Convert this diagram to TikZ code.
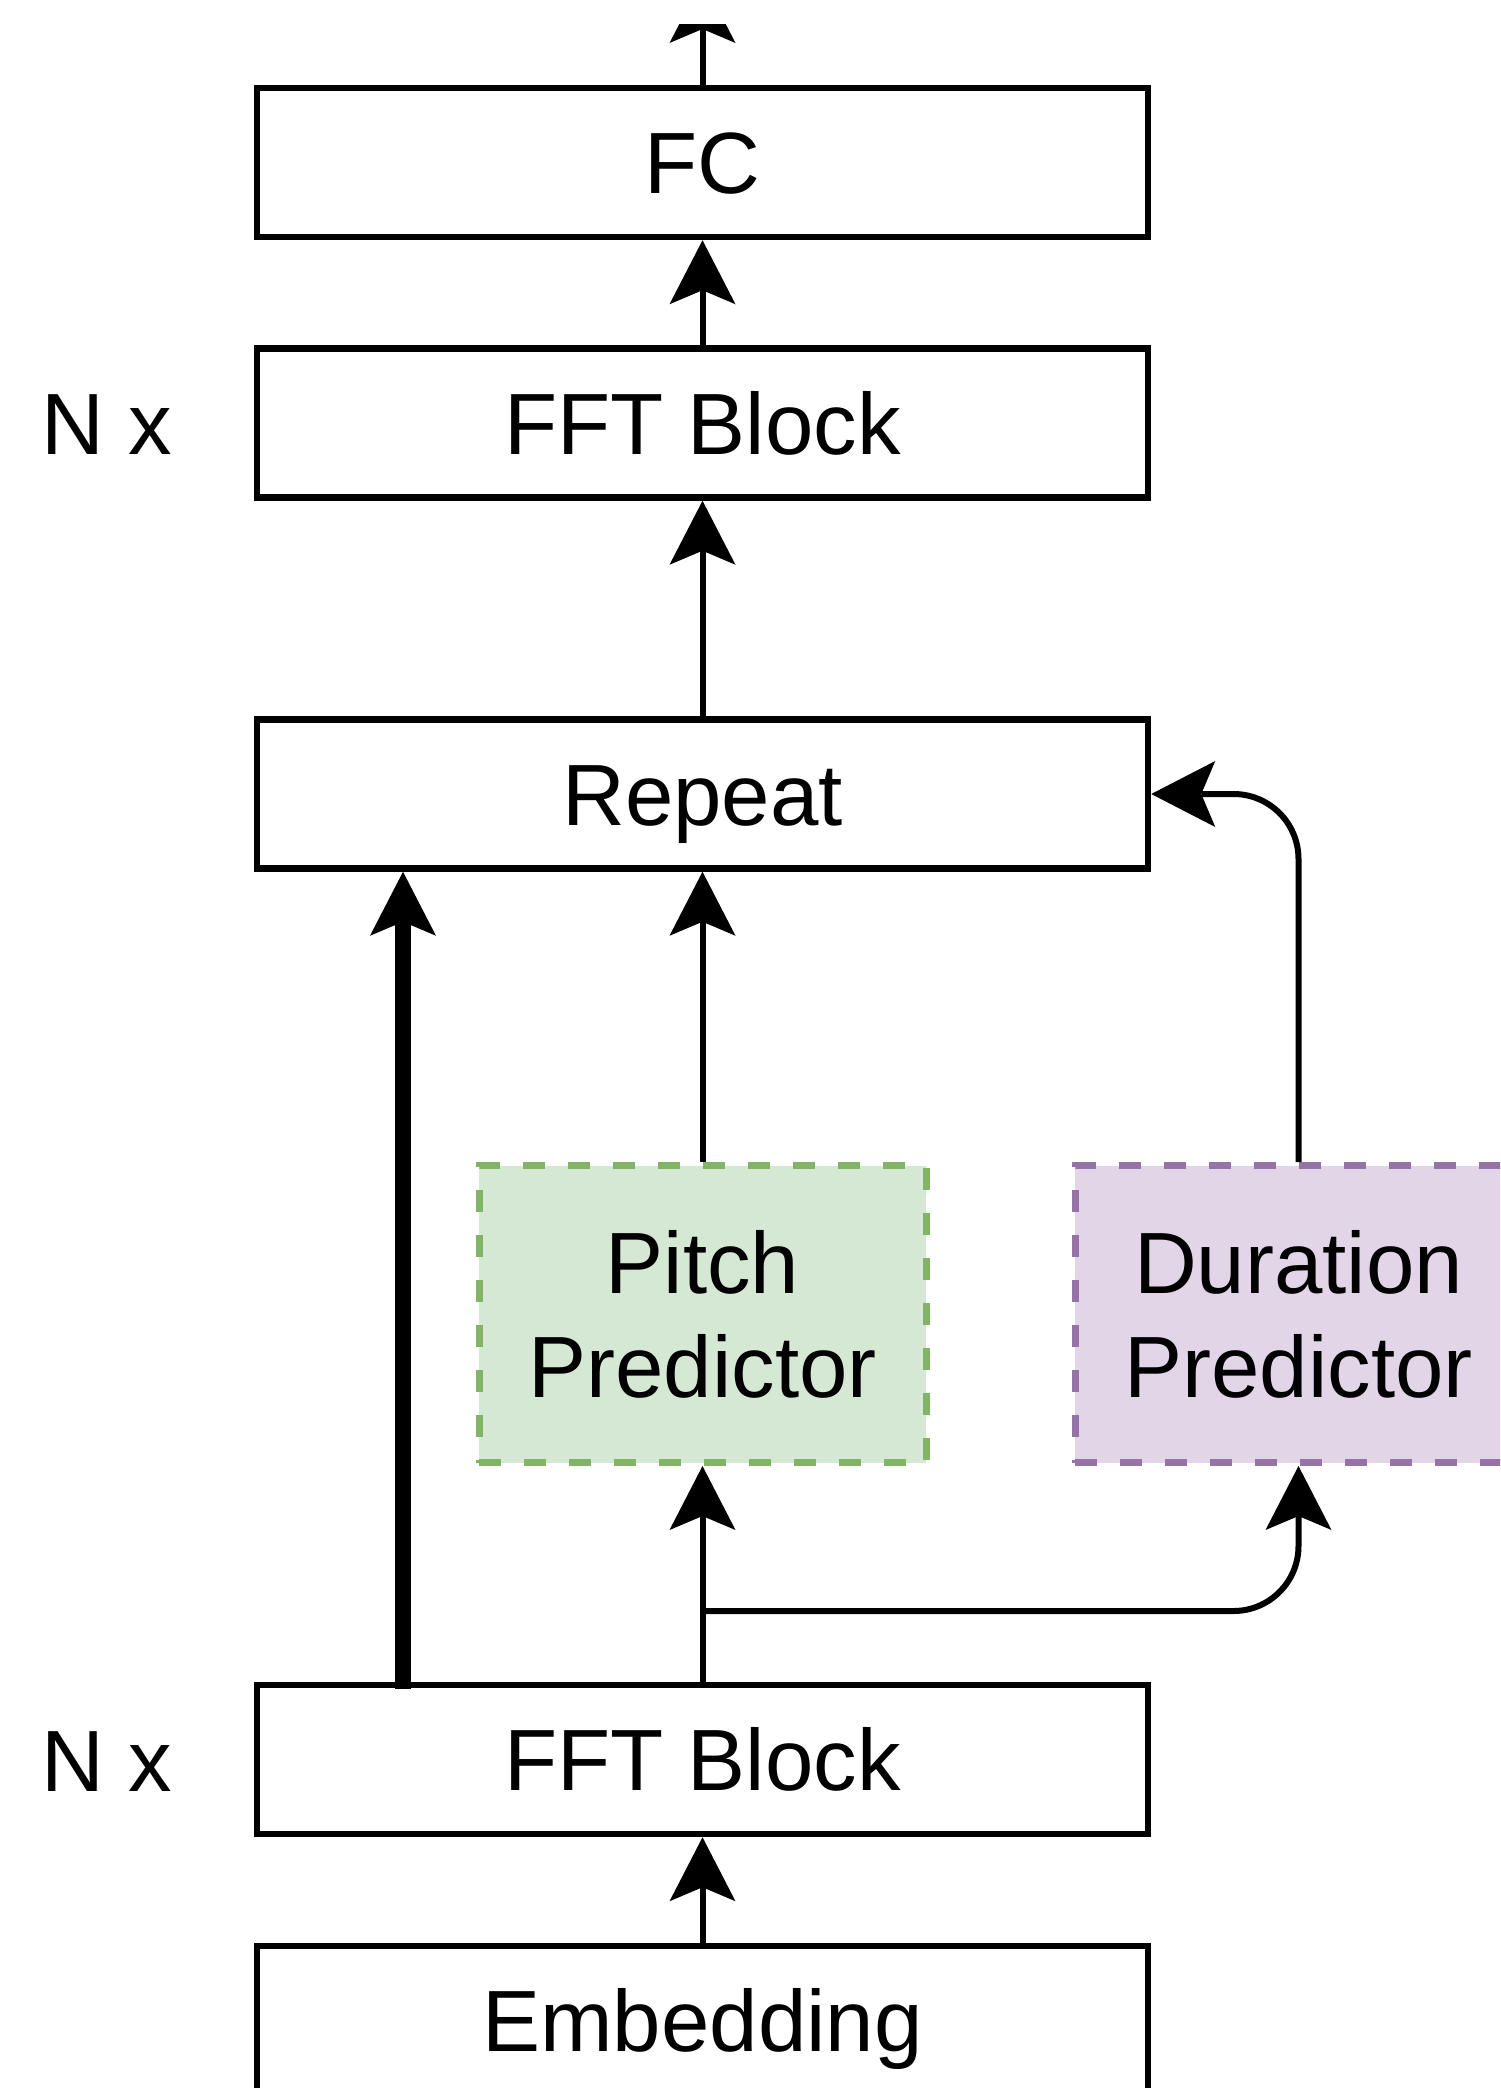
\documentclass[tikz,border=0pt]{standalone}
\usepackage{fontspec}
\setmainfont{Liberation Sans}
\usetikzlibrary{arrows.meta}

\definecolor{pitchfill}{HTML}{D5E8D4}
\definecolor{pitchline}{HTML}{82B366}
\definecolor{durfill}{HTML}{E1D5E7}
\definecolor{durline}{HTML}{9673A6}

\tikzset{
  txt/.style={font=\fontsize{87}{104}\selectfont, inner sep=0pt},
  blk/.style={txt, draw, line width=6.5pt, minimum width=891pt, minimum height=149pt,
              text height=62pt, text depth=0pt},
  pred/.style={txt, draw, line width=7pt, dash pattern=on 22pt off 23pt,
               minimum width=447pt, minimum height=297pt, align=center},
  tip/.style={-{Stealth[length=64pt,width=66pt,inset=14pt,line width=0pt]}},
  flow/.style={tip, line width=6pt},
  skip/.style={tip, line width=16pt},
}

\begin{document}
\begin{tikzpicture}[x=1pt,y=-1pt]
  \clip (0,0) rectangle (1500,2088);

  % main stack
  \node[blk] (fc)   at (702.5,162.5)  {FC};
  \node[blk] (fft1) at (702.5,423)    {FFT Block};
  \node[blk] (rep)  at (702.5,794)    {Repeat};
  \node[blk] (fft2) at (702.5,1759.5) {FFT Block};
  \node[blk] (emb)  at (702.5,2020.5) {Embedding};

  % predictors
  \node[pred, fill=pitchfill, draw=pitchline] (pitch) at (702.5,1314) {Pitch\\Predictor};
  \node[pred, fill=durfill, draw=durline]     (dur)   at (1298.5,1314) {Duration\\Predictor};

  % repetition labels
  \node[txt] (n1) at (107,424.5) {N x};
  \node[txt] (n2) at (107,1762)  {N x};

  % helper points
  \coordinate (out)   at (702.5,-21);
  \coordinate (split) at (702.5,1611);
  \coordinate (thk)   at (403,1689);

  % output arrow
  \begin{scope}
    \clip (0,24) rectangle (1500,2088);
    \draw[flow] (fc.north) -- (out);
  \end{scope}

  % connectors
  \draw[flow] (fft1.north) -- (fc.south);
  \draw[flow] (rep.north) -- (fft1.south);
  \draw[flow] (pitch.north) -- (rep.south);
  \draw[flow, rounded corners=65pt] (dur.north) |- (rep.east);
  \draw[flow] (fft2.north) -- (pitch.south);
  \draw[flow, rounded corners=65pt] (split) -| (dur.south);
  \draw[flow] (emb.north) -- (fft2.south);
  \draw[skip] (thk) -- (thk |- rep.south);
\end{tikzpicture}
\end{document}
